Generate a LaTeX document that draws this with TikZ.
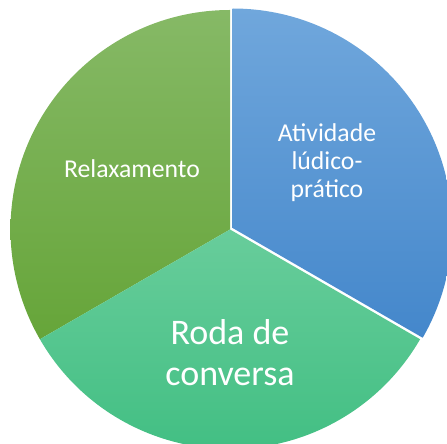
\documentclass[tikz,border=0pt]{standalone}
\usepackage{fontspec}
\setmainfont{Carlito}
\definecolor{gtop}{HTML}{86B966}
\definecolor{gbot}{HTML}{66A539}
\definecolor{ttop}{HTML}{68CD9B}
\definecolor{tbot}{HTML}{3DBD80}
\definecolor{btop}{HTML}{70A7DC}
\definecolor{bbot}{HTML}{4487CB}
\begin{document}
\begin{tikzpicture}[x=1pt,y=1pt,
  lbl/.style={text=white,align=center,inner sep=0pt},
  small/.style={lbl,font=\fontsize{25.7}{28}\selectfont},
  big/.style={lbl,font=\fontsize{36}{41}\selectfont}]
\useasboundingbox (0,0) rectangle (447,444);
\clip (0,0) rectangle (447,444);
\def\R{219.5}
\coordinate (c) at (230,214.5);
\coordinate (cb) at (232.6,216.0);
% green slice (Relaxamento)
\shade[top color=gtop,bottom color=gbot] (c) -- ++(90:\R) arc[start angle=90,end angle=210,radius=\R] -- cycle;
% teal slice (Roda de conversa)
\shade[top color=ttop,bottom color=tbot] (c) -- ++(210:\R) arc[start angle=210,end angle=330,radius=\R] -- cycle;
% blue slice (exploded)
\shade[top color=btop,bottom color=bbot] (cb) -- ++(90:\R) arc[start angle=90,end angle=-30,radius=\R] -- cycle;
\node[small] (relax) at (132,275) {Relaxamento};
\node[small] (ativ) at (327,281) {Atividade\\lúdico-\\prático};
\node[big] (roda) at (230,91) {Roda de\\conversa};
\end{tikzpicture}
\end{document}
